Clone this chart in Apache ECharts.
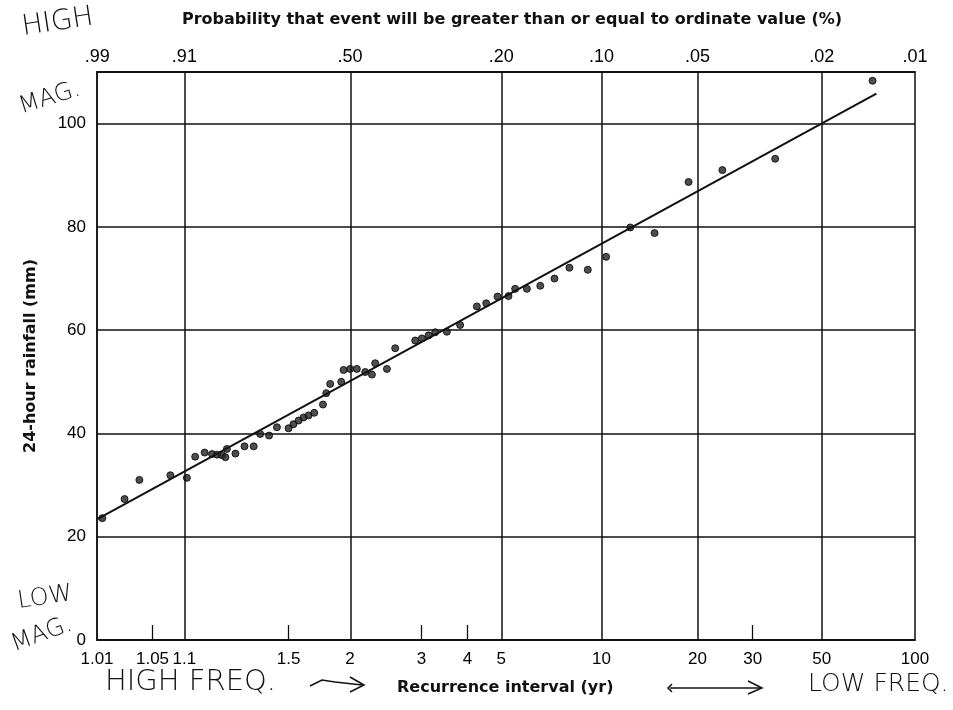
<!DOCTYPE html>
<html lang="en">
<head>
    <meta charset="UTF-8">
    <title>Recurrence interval of 24-hour rainfall</title>
    <script src="https://cdn.jsdelivr.net/npm/echarts@6/dist/echarts.min.js"></script>
</head>
<body style="margin:0;background:#fff;">
    <div id="main" style="width: 953px;height:710px;"></div>
    <script type="text/javascript">
        // recurrence interval (yr) and 24-hour rainfall (mm) for each plotted event
        var recurrenceT = [1.012, 1.024, 1.036, 1.075, 1.105, 1.123, 1.146, 1.166, 1.181, 1.196,
            1.207, 1.212, 1.242, 1.277, 1.316, 1.346, 1.390, 1.432, 1.500, 1.531,
            1.565, 1.599, 1.635, 1.678, 1.748, 1.776, 1.810, 1.912, 1.935, 2.002,
            2.073, 2.168, 2.249, 2.290, 2.446, 2.565, 2.887, 3.006, 3.131, 3.262,
            3.509, 3.818, 4.255, 4.525, 4.876, 5.249, 5.489, 5.946, 6.516, 7.19,
            7.98, 9.08, 10.34, 12.29, 14.64, 18.74, 24.0, 35.4, 72.9];
        var rainfallMm = [23.6, 27.3, 31.0, 31.9, 31.4, 35.5, 36.3, 36.0, 35.9, 35.8,
            35.4, 37.0, 36.1, 37.5, 37.5, 39.9, 39.6, 41.2, 41.0, 41.8,
            42.5, 43.1, 43.5, 44.0, 45.6, 47.8, 49.6, 50.0, 52.3, 52.5,
            52.5, 51.9, 51.4, 53.6, 52.5, 56.5, 58.0, 58.4, 59.0, 59.6,
            59.7, 61.0, 64.6, 65.2, 66.5, 66.6, 68.0, 68.0, 68.6, 70.0,
            72.1, 71.7, 74.2, 79.9, 78.8, 88.7, 91.0, 93.2, 108.3];

        // fitted straight line (two ends)
        var fitT = [1.0101, 75];
        var fitMm = [23.4, 105.8];

        // bottom axis: recurrence interval labels, full grid lines and short ticks
        var bottomTicks = [1.01, 1.05, 1.1, 1.5, 2, 3, 4, 5, 10, 20, 30, 50, 100];
        var gridT = [1.1, 2, 5, 10, 20, 50];
        var shortTickT = [1.05, 1.5, 3, 4, 30];

        // top axis: exceedance probability labels
        var topLabels = ['.99', '.91', '.50', '.20', '.10', '.05', '.02', '.01'];
        var topT = [1 / 0.99, 1.1, 2, 5, 10, 20, 50, 100];

        var yTicks = [0, 20, 40, 60, 80, 100];

        // Gumbel reduced variate, used as the x position
        function gumbel(T) {
            return -Math.log(-Math.log(1 - 1 / T));
        }

        function labelFor(values, labels) {
            var pos = values.map(gumbel);
            return function (v) {
                for (var i = 0; i < pos.length; i++) {
                    if (Math.abs(pos[i] - v) < 1e-6) return labels[i];
                }
                return '';
            };
        }

        var xMin = gumbel(1.01) - 1e-9;
        var xMax = gumbel(100) + 1e-9;

        var points = recurrenceT.map(function (T, i) {
            return [gumbel(T), rainfallMm[i]];
        });
        var fitLine = fitT.map(function (T, i) {
            return [gumbel(T), fitMm[i]];
        });

        var ink = '#111';
        var font = '"Liberation Sans", Arial, sans-serif';
        var boldFont = '"DejaVu Sans", sans-serif';
        var hand = '"DejaVu Sans", sans-serif';

        var myChart = echarts.init(document.getElementById('main'));
        var option = {
            backgroundColor: '#fff',
            animation: false,
            grid: {
                left: 97, right: 38, top: 72, bottom: 70,
                show: true,
                borderColor: ink,
                borderWidth: 1.5
            },
            xAxis: [
                {
                    type: 'value',
                    position: 'bottom',
                    min: xMin,
                    max: xMax,
                    axisLine: {show: true, onZero: false, lineStyle: {color: ink, width: 1.5}},
                    axisTick: {
                        show: true,
                        inside: true,
                        length: 15,
                        customValues: shortTickT.map(gumbel),
                        lineStyle: {color: ink, width: 1.3}
                    },
                    axisLabel: {
                        customValues: bottomTicks.map(gumbel),
                        formatter: labelFor(bottomTicks, bottomTicks.map(String)),
                        color: '#000',
                        fontSize: 17,
                        fontFamily: font,
                        margin: 11
                    },
                    splitLine: {show: false}
                },
                {
                    type: 'value',
                    position: 'top',
                    min: xMin,
                    max: xMax,
                    axisLine: {show: true, onZero: false, lineStyle: {color: ink, width: 1.5}},
                    axisTick: {show: false},
                    axisLabel: {
                        customValues: topT.map(gumbel),
                        formatter: labelFor(topT, topLabels),
                        color: '#000',
                        fontSize: 18,
                        fontFamily: font,
                        margin: 6
                    },
                    splitLine: {show: false}
                }
            ],
            yAxis: {
                type: 'value',
                min: 0,
                max: 110,
                interval: 20,
                name: '24-hour rainfall (mm)',
                nameLocation: 'middle',
                nameGap: 58,
                nameTextStyle: {color: ink, fontSize: 16, fontWeight: 'bold', fontFamily: boldFont},
                axisLine: {show: true, onZero: false, lineStyle: {color: ink, width: 1.5}},
                axisTick: {show: false},
                axisLabel: {
                    customValues: yTicks,
                    color: '#000',
                    fontSize: 17,
                    fontFamily: font,
                    margin: 11
                },
                splitLine: {show: true, lineStyle: {color: ink, width: 1.5}}
            },
            series: [
                {
                    type: 'line',
                    data: fitLine,
                    symbol: 'none',
                    silent: true,
                    lineStyle: {color: ink, width: 2},
                    markLine: {
                        silent: true,
                        symbol: 'none',
                        label: {show: false},
                        lineStyle: {color: ink, width: 1.5, type: 'solid'},
                        data: gridT.map(function (T) {
                            return {xAxis: gumbel(T)};
                        })
                    }
                },
                {
                    type: 'scatter',
                    data: points,
                    symbol: 'circle',
                    symbolSize: 7,
                    itemStyle: {color: '#222', borderColor: '#000', borderWidth: 1}
                }
            ],
            graphic: [
                {
                    type: 'text', x: 182, y: 12,
                    style: {
                        text: 'Probability that event will be greater than or equal to ordinate value (%)',
                        font: 'bold 16px ' + boldFont, fill: ink
                    }
                },
                {
                    type: 'text', x: 397, y: 680,
                    style: {text: 'Recurrence interval (yr)', font: 'bold 16px ' + boldFont, fill: ink}
                },
                // handwritten notes
                {type: 'text', x: 20, y: 14, rotation: 0.15, style: {text: 'HIGH', font: '300 28px ' + hand, fill: ink}},
                {type: 'text', x: 16, y: 96, rotation: 0.3, style: {text: 'MAG.', font: '300 24px ' + hand, fill: ink}},
                {type: 'text', x: 16, y: 590, rotation: 0.15, style: {text: 'LOW', font: '300 24px ' + hand, fill: ink}},
                {type: 'text', x: 8, y: 634, rotation: 0.35, style: {text: 'MAG.', font: '300 24px ' + hand, fill: ink}},
                {type: 'text', x: 105, y: 668, style: {text: 'HIGH FREQ.', font: '300 29px ' + hand, fill: ink}},
                {type: 'text', x: 808, y: 672, style: {text: 'LOW FREQ.', font: '300 25px ' + hand, fill: ink}},
                {
                    type: 'polyline',
                    shape: {points: [[310, 686], [322, 680], [335, 682], [362, 685]]},
                    style: {stroke: ink, lineWidth: 1.5, fill: null}
                },
                {
                    type: 'polyline',
                    shape: {points: [[350, 677], [364, 685], [350, 692]]},
                    style: {stroke: ink, lineWidth: 1.5, fill: null}
                },
                {
                    type: 'polyline',
                    shape: {points: [[672, 684], [668, 688], [672, 692]]},
                    style: {stroke: ink, lineWidth: 1.5, fill: null}
                },
                {
                    type: 'line',
                    shape: {x1: 670, y1: 688, x2: 760, y2: 688},
                    style: {stroke: ink, lineWidth: 1.5}
                },
                {
                    type: 'polyline',
                    shape: {points: [[748, 681], [762, 688], [748, 694]]},
                    style: {stroke: ink, lineWidth: 1.5, fill: null}
                }
            ]
        };

        myChart.setOption(option);
    </script>
</body>
</html>
